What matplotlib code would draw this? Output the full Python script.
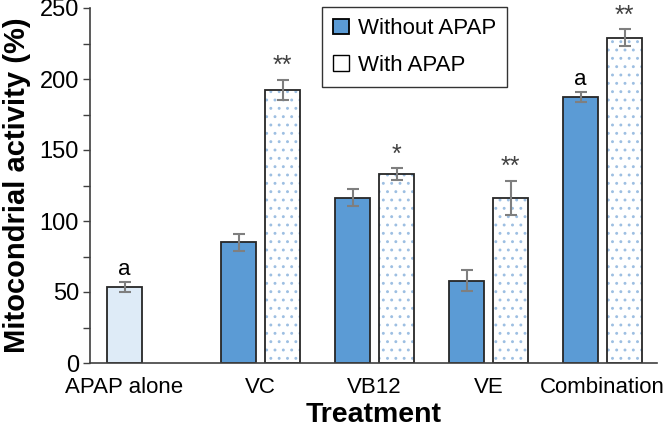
import matplotlib
matplotlib.use("Agg")
import matplotlib.pyplot as plt
import numpy as np

plt.rcParams['font.family'] = ['Liberation Sans', 'DejaVu Sans']
plt.rcParams['hatch.linewidth'] = 0.9

categories = ["APAP alone", "VC", "VB12", "VE", "Combination"]
without_apap = [53.5, 85, 116.5, 58, 187]
without_err = [3.3, 6, 6, 7.5, 3.5]
with_apap = [None, 192.5, 133, 116.5, 229]
with_err = [None, 7, 4, 12, 6]
without_marks = ["a", "", "", "", "a"]
with_marks = ["", "**", "*", "**", "**"]

fig = plt.figure(figsize=(6.64, 4.34), dpi=100)
ax = fig.add_axes([90/664, 1-363/434, (657-90)/664, (363-8)/434])

x = np.arange(len(categories))
off = 0.193
w = 0.31
blue = '#5b9bd5'
err_col = '#7f7f7f'

for i in range(len(categories)):
    xb = x[i] - off
    fc = '#deebf7' if i == 0 else blue
    ax.bar(xb, without_apap[i], w, color=fc, edgecolor='#262626', linewidth=1.3, zorder=2)
    ax.errorbar(xb, without_apap[i], yerr=without_err[i], fmt='none', ecolor=err_col,
                elinewidth=1.5, capsize=4, capthick=1.5, zorder=3)
    if without_marks[i]:
        ax.annotate(without_marks[i], (xb, without_apap[i] + without_err[i]),
                    xytext=(0, 2), textcoords='offset points', ha='center', va='bottom',
                    fontsize=16)
    if with_apap[i] is not None:
        xw = x[i] + off
        ax.bar(xw, with_apap[i], w, color='white', edgecolor='#9dbfe2', hatch='..',
               linewidth=0, zorder=2)
        ax.bar(xw, with_apap[i], w, color='none', edgecolor='#262626', linewidth=1.3, zorder=2.5)
        ax.errorbar(xw, with_apap[i], yerr=with_err[i], fmt='none', ecolor=err_col,
                    elinewidth=1.5, capsize=4, capthick=1.5, zorder=3)
        if with_marks[i]:
            ax.annotate(with_marks[i], (xw, with_apap[i] + with_err[i]),
                        xytext=(0, 1), textcoords='offset points', ha='center', va='bottom',
                        fontsize=18, color='#404040')

ax.set_xlim(-0.496, 4.478)
ax.set_ylim(0, 250)
ticks = list(x.astype(float))
ticks[0] = x[0] - off
ax.set_xticks(ticks)
ax.set_xticklabels(categories, fontsize=16)
ax.tick_params(axis='x', length=0, pad=10)
ax.set_yticks(np.arange(0, 251, 50))
ax.set_yticks(np.arange(0, 251, 25), minor=True)
ax.tick_params(axis='y', which='both', direction='out', length=5, width=1, labelsize=17,
               color='#404040', pad=3)
for s in ['top', 'right']:
    ax.spines[s].set_visible(False)
for s in ['left', 'bottom']:
    ax.spines[s].set_color('#404040')
    ax.spines[s].set_linewidth(1.2)

ax.set_xlabel("Treatment", fontsize=20.5, fontweight='bold', labelpad=3)
ax.set_ylabel("Mitocondrial activity (%)", fontsize=21, fontweight='bold', labelpad=6)

from matplotlib.patches import Patch
h1 = Patch(facecolor=blue, edgecolor='black', linewidth=1.3)
h2 = Patch(facecolor='white', edgecolor='black', linewidth=1.0)
leg = ax.legend([h1, h2], ["Without APAP", "With APAP"], loc='upper left',
                bbox_to_anchor=(322/664, 1-7/434), bbox_transform=fig.transFigure,
                fontsize=16, frameon=True, fancybox=False, edgecolor='black',
                handlelength=0.7, handleheight=0.7, handletextpad=0.4,
                borderpad=0.5, labelspacing=0.7, borderaxespad=0)
leg.get_frame().set_linewidth(1.0)

fig.savefig("out.png", dpi=100)
